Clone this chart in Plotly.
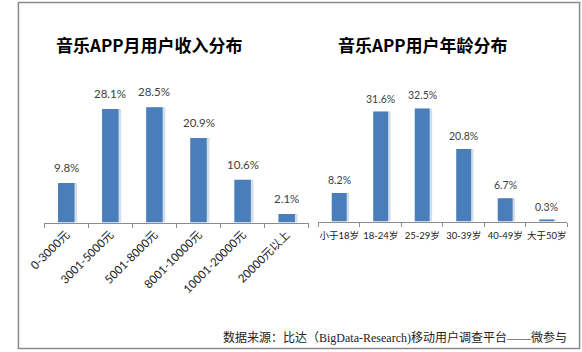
import plotly.graph_objects as go

W, H = 582, 352

income_cats = ["0-3000元", "3001-5000元", "5001-8000元", "8001-10000元", "10001-20000元", "20000元以上"]
income_vals = [9.8, 28.1, 28.5, 20.9, 10.6, 2.1]

age_cats = ["小于18岁", "18-24岁", "25-29岁", "30-39岁", "40-49岁", "大于50岁"]
age_vals = [8.2, 31.6, 32.5, 20.8, 6.7, 0.3]

title_left = "音乐APP月用户收入分布"
title_right = "音乐APP用户年龄分布"
source_text = "数据来源：比达（BigData-Research)移动用户调查平台——微参与"

BAR = "#4A7EBB"
SHADOW = "#D3DEEC"
AXIS = "#8C8C8C"
LABEL = "#404040"
FONT = "Lato, Noto Sans CJK SC, sans-serif"


def px(x):
    return x / W


def py(y):
    return 1 - y / H


fig = go.Figure()

lw, rw = 0.375, 0.36
for cats, vals, w, xa, ya in [
    (income_cats, income_vals, lw, "x", "y"),
    (age_cats, age_vals, rw, "x2", "y2"),
]:
    fig.add_trace(go.Bar(x=cats, y=vals, width=w, offset=-w / 2 + 0.06,
                         marker=dict(color=SHADOW, line=dict(width=0)),
                         xaxis=xa, yaxis=ya, hoverinfo="skip", showlegend=False))
    fig.add_trace(go.Bar(x=cats, y=vals, width=w, offset=-w / 2,
                         marker=dict(color=BAR, line=dict(width=0)),
                         xaxis=xa, yaxis=ya, showlegend=False))

annotations = []
for cats, vals, xr, yr, fs, shift in [
    (income_cats, income_vals, "x", "y", 11.5, 7),
    (age_cats, age_vals, "x2", "y2", 10.5, 5),
]:
    for c, v in zip(cats, vals):
        annotations.append(dict(x=c, y=v, xref=xr, yref=yr, text=f"{v}%",
                                showarrow=False, yanchor="bottom", yshift=shift,
                                font=dict(family=FONT, size=fs, color=LABEL)))

annotations += [
    dict(x=px(137), y=py(44), xref="paper", yref="paper", text=f"<b>{title_left}</b>",
         showarrow=False, xanchor="center", yanchor="middle",
         font=dict(family="Noto Sans CJK SC", size=17, color="#000000")),
    dict(x=px(418), y=py(45), xref="paper", yref="paper", text=f"<b>{title_right}</b>",
         showarrow=False, xanchor="center", yanchor="middle",
         font=dict(family="Noto Sans CJK SC", size=17, color="#000000")),
    dict(x=px(569), y=py(337), xref="paper", yref="paper", text=source_text,
         showarrow=False, xanchor="right", yanchor="middle",
         font=dict(family="Liberation Serif, Noto Sans CJK SC", size=12, color="#222222")),
]

xcommon = dict(type="category", showline=True, linecolor=AXIS, linewidth=1,
               ticks="outside", tickson="boundaries", ticklen=4, tickcolor=AXIS,
               showgrid=False, zeroline=False, fixedrange=True,
               range=[-0.5, 5.5])
ycommon = dict(showgrid=False, zeroline=False, showticklabels=False, showline=False,
               ticks="", fixedrange=True)

fig.update_layout(
    width=W, height=H,
    margin=dict(l=0, r=0, t=0, b=0),
    paper_bgcolor="white", plot_bgcolor="white",
    barmode="overlay",
    xaxis=dict(**xcommon, domain=[px(29), px(301)], anchor="y", tickangle=-45,
               tickfont=dict(family=FONT, size=11.5, color="#202020")),
    yaxis=dict(**ycommon, domain=[py(222.5), py(98.5)], range=[0, 124 / 4.04], anchor="x"),
    xaxis2=dict(**xcommon, domain=[px(311), px(567)], anchor="y2", tickangle=0,
                ticklabelstandoff=5,
                tickfont=dict(family=FONT, size=9.5, color="#202020")),
    yaxis2=dict(**ycommon, domain=[py(221.5), py(98.5)], range=[0, 123 / 3.48], anchor="x2"),
    annotations=annotations,
    shapes=[dict(type="rect", xref="paper", yref="paper",
                 x0=px(2.5), x1=px(579.5), y0=py(348.5), y1=py(2.5),
                 line=dict(color="#8A8A8A", width=1.5))],
    font=dict(family=FONT),
)

fig.write_html("out.html")
